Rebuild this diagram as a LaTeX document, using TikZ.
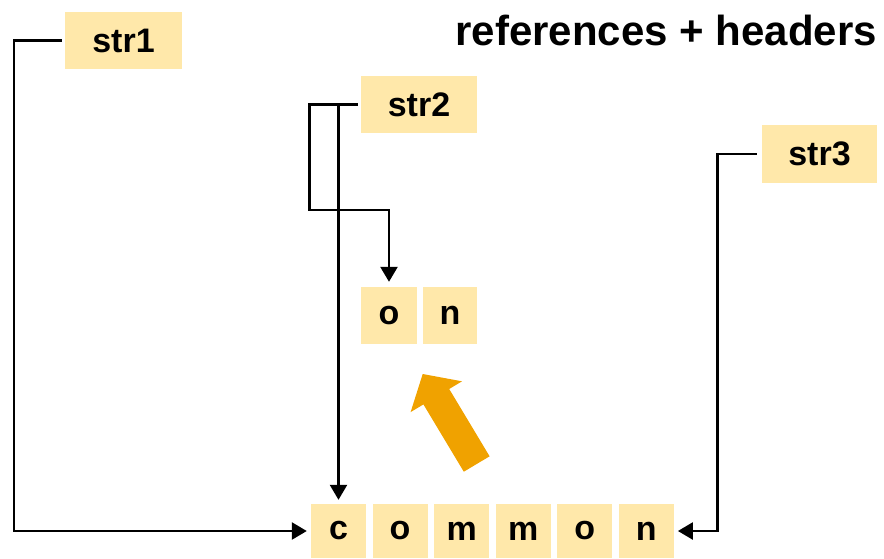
\documentclass[tikz,border=0pt]{standalone}
\usepackage{fontspec}
\setmainfont{Liberation Sans}
\usetikzlibrary{arrows.meta}
\definecolor{boxfill}{HTML}{FFE8AA}
\definecolor{arroworange}{HTML}{F0A200}
\begin{document}
\begin{tikzpicture}[x=1pt,y=-1pt,
  cell/.style={fill=boxfill, inner sep=0pt, minimum height=54pt, minimum width=55pt,
    font=\fontsize{34}{40}\selectfont\bfseries},
  refbox/.style={cell, minimum height=57pt, minimum width=116pt},
  conn/.style={draw=black, line width=2.5pt, -{Triangle[width=17pt,length=15pt]}},
  plain/.style={draw=black, line width=2.5pt}]
\useasboundingbox (0,0) rectangle (884,558);
% title
\node[anchor=east, inner sep=0pt, font=\fontsize{42}{48}\selectfont\bfseries] (title) at (877,30) {references + headers};
% reference boxes
\node[refbox, minimum width=117pt] (str1) at (123.5,40.5) {str1};
\node[refbox] (str2) at (419,104.5) {str2};
\node[refbox, minimum width=115pt, minimum height=58pt] (str3) at (819.5,154) {str3};
% on
\node[cell, minimum width=56pt, minimum height=57pt] (o1) at (389,315.5) {o};
\node[cell, minimum width=54pt, minimum height=57pt] (n1) at (450,315.5) {n};
% common
\node[cell] (c) at (338.5,531) {c};
\node[cell] (co) at (400,531) {o};
\node[cell] (cm1) at (461.7,531) {m};
\node[cell] (cm2) at (523.2,531) {m};
\node[cell] (co2) at (584.7,531) {o};
\node[cell] (cn) at (646.2,531) {n};
% connectors
\coordinate (k1) at (14,40.5);
\draw[conn, shorten >=4pt] ([xshift=-3pt]str1.west) -- (k1) |- (c.west);
\coordinate (k2) at (309.3,104.5);
\coordinate (k3) at (309.3,210);
\draw[conn, shorten >=5pt] ([xshift=-3pt]str2.west) -- (k2) -- (k3) -| (o1.north);
\draw[conn, shorten >=4pt] (c.north |- str2.west) -- (c.north);
\coordinate (k4) at (717.3,154);
\draw[conn, shorten >=4pt] ([xshift=-5pt]str3.west) -- (k4) |- (cn.east);
% big orange arrow
\fill[arroworange] (422.7,374) -- (462,381.3) -- (449.2,389) -- (489.6,456.3) -- (463.8,471.7) -- (423.4,404.4) -- (410.6,412.1) -- cycle;
\end{tikzpicture}
\end{document}
